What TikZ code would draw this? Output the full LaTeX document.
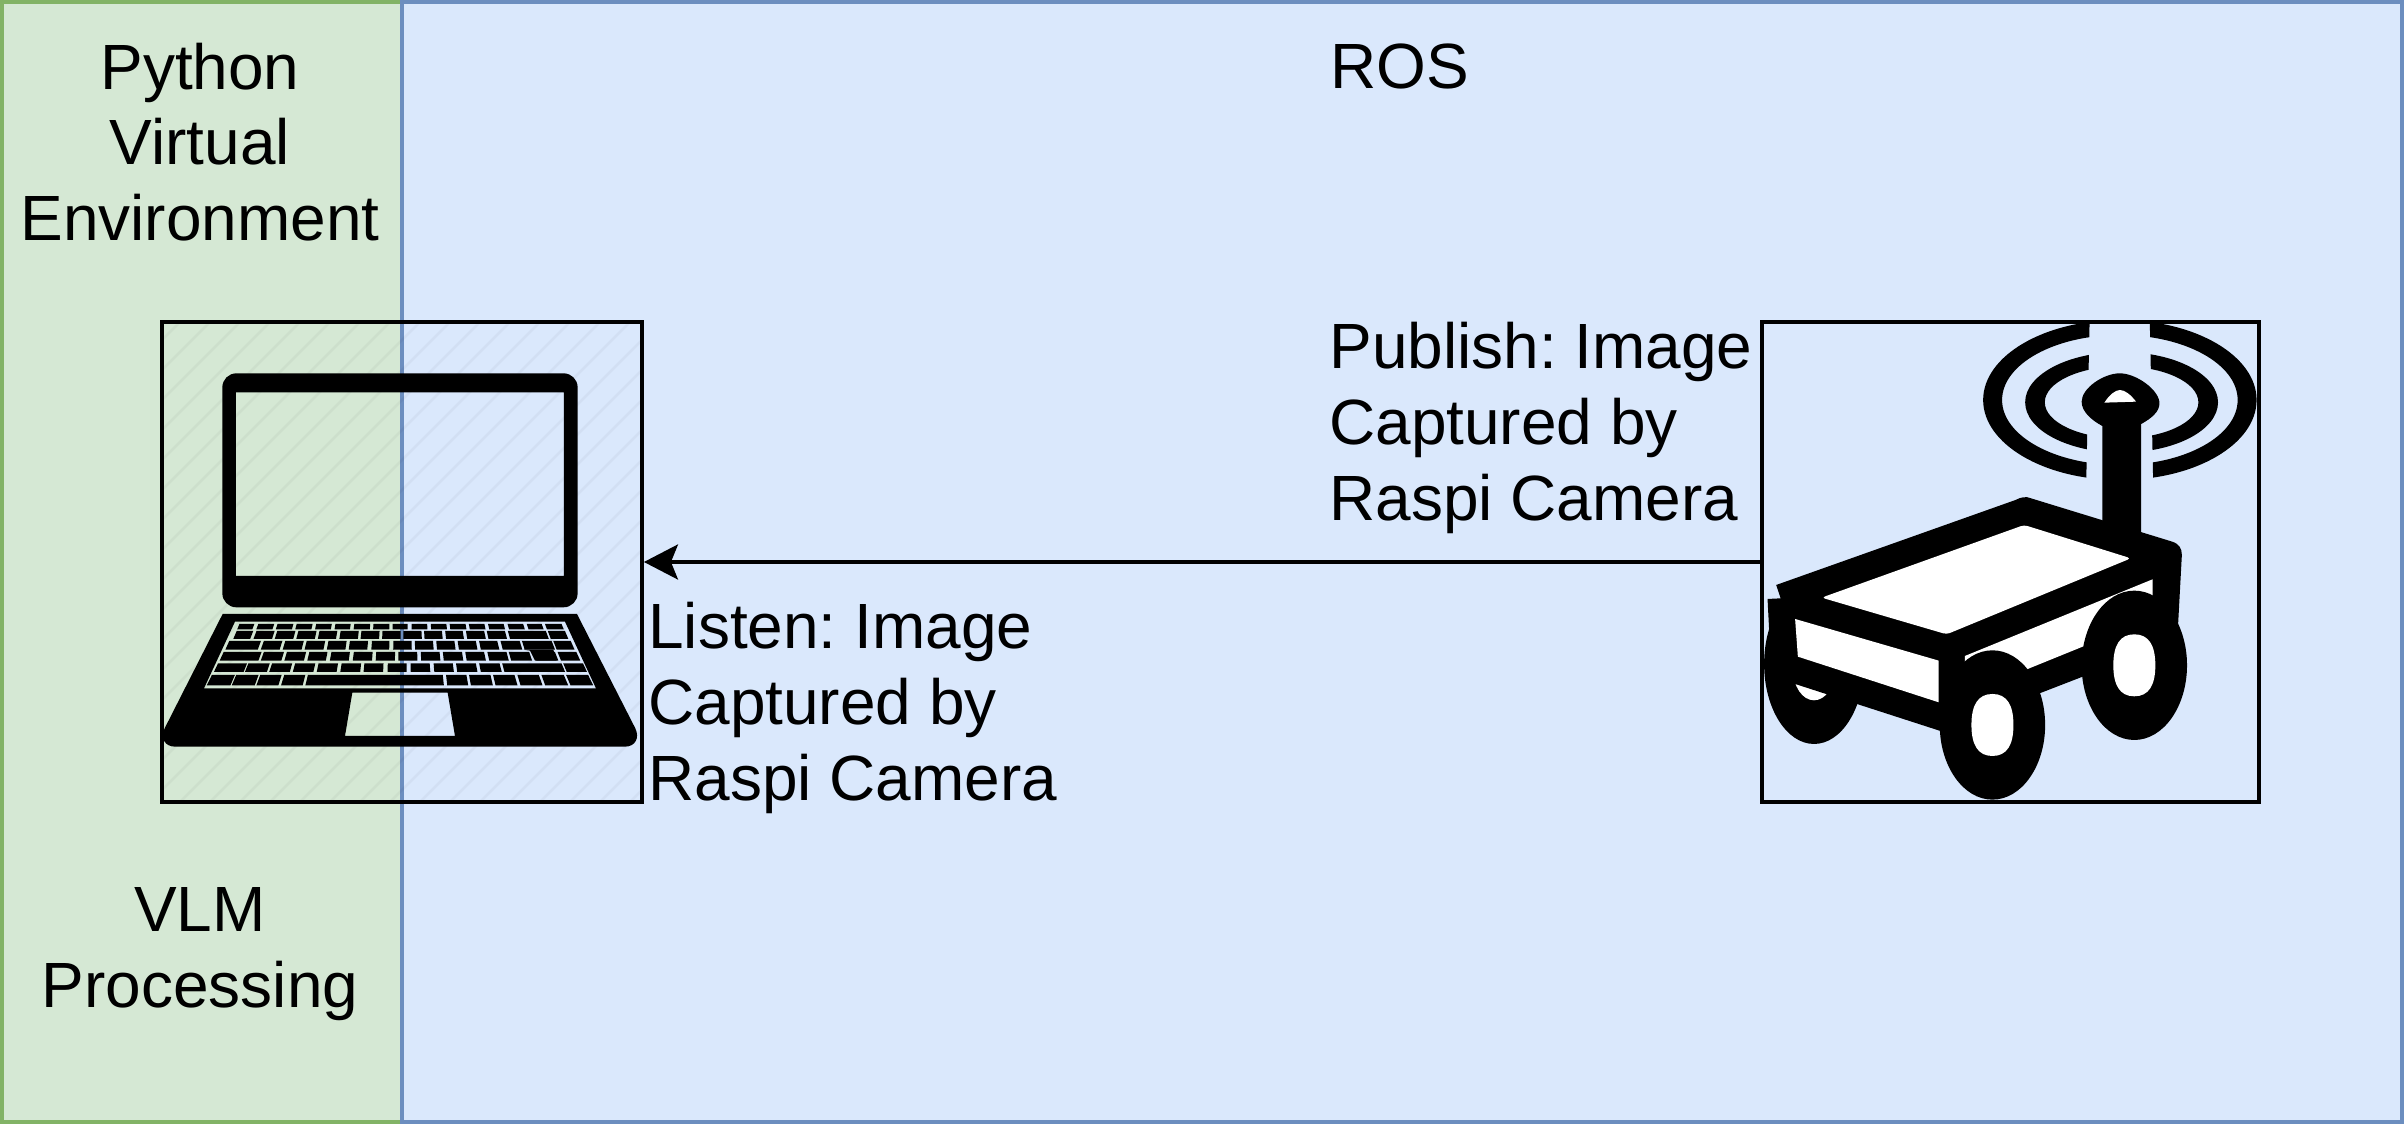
\documentclass[tikz,border=0pt]{standalone}
\usepackage{fontspec}
\setmainfont{Liberation Sans}
\usetikzlibrary{arrows.meta}
\definecolor{venvfill}{HTML}{D5E8D4}
\definecolor{venvline}{HTML}{82B366}
\definecolor{rosfill}{HTML}{DAE8FC}
\definecolor{rosline}{HTML}{6C8EBF}
\tikzset{
    region/.style={rectangle,anchor=north west,inner sep=0pt,line width=0.08cm,minimum height=22.4cm},
    imgbox/.style={rectangle,draw=black,line width=0.08cm,minimum height=9.6cm},
    label/.style={inner sep=0pt,font=\fontsize{36.4}{43}\selectfont\frenchspacing},
    whitepart/.style={fill=white,draw=none},
}
% one row of keys: top, bottom, list of left/right edges at mid height
\newcommand{\keyrow}[3]{
    \pgfmathsetmacro{\rowmid}{(#1+#2)/2}
    \foreach \kl/\kr in {#3} {
        \pgfmathsetmacro{\slanttop}{1+0.00086*(#1-\rowmid)}
        \pgfmathsetmacro{\slantbot}{1+0.00086*(#2-\rowmid)}
        \fill ({785+(\kl-785)*\slanttop},#1) -- ({785+(\kr-785)*\slanttop},#1) -- ({785+(\kr-785)*\slantbot},#2) -- ({785+(\kl-785)*\slantbot},#2) -- cycle;
    }
}
\begin{document}
\begin{tikzpicture}[x=0.02cm,y=-0.02cm]
    \useasboundingbox (0,0) rectangle (2404,1124);
    \node[region,fill=venvfill,draw=venvline,minimum width=8cm] (venv) at (0,0) {};
    \node[region,fill=rosfill,draw=rosline,minimum width=40cm] (ros) at (400,0) {};
    \node[imgbox,minimum width=9.6cm] (laptop) at (402,562) {};
    \node[imgbox,minimum width=9.94cm] (robot) at (2010.5,562) {};
    \begin{scope}
        \clip (162,322) rectangle (642,802);
        \foreach \hx in {-300,-270,...,660} {
            \draw[black,opacity=0.035,line width=1.5pt] (\hx,802) -- ++(480,-480);
        }
    \end{scope}
    \draw[black,line width=0.07cm,-{Stealth[length=0.68cm,width=0.7cm,inset=0.14cm]}] (robot) -- (laptop);

    \node[label,align=center] (venvtitle) at (200,142) {Python\\Virtual\\Environment};
    \node[label] (rostitle) at (1400,66) {ROS};
    \node[label,align=center] (vlm) at (200,954) {VLM\\Processing};
    \node[label,align=left,anchor=west] (publish) at (1329,428) {Publish: Image\\Captured by\\Raspi Camera};
    \node[label,align=left,anchor=west] (listen) at (648,708) {Listen: Image\\Captured by\\Raspi Camera};

    % laptop
    \begin{scope}[shift={(140,300)},x=0.02cm/3,y=-0.02cm/3]
        \fill[even odd rule] [rounded corners=8pt] (247,220) rectangle (1313,922) [sharp corners] (288,277) rectangle (1272,828);
        \fill[even odd rule] (248,942) -- (1311,942) -- (1486,1285) .. controls (1500,1315) and (1485,1340) .. (1455,1340) -- (105,1340) .. controls (75,1340) and (60,1315) .. (74,1285) -- cycle
            (285,965) -- (1275,965) -- (1368,1165) -- (192,1165) -- cycle
            (637,1178) -- (923,1178) -- (945,1308) -- (615,1308) -- cycle;
        \keyrow{972}{988}{295/340,352/400,410/458,468/516,527/574,585/631,642/690,700/748,758/803,815/862,873/920,930/978,988/1035,1046/1093,1105/1152,1163/1208,1218/1268}
        \keyrow{993}{1017}{285/335,345/400,408/463,472/527,536/590,600/655,663/718,727/782,790/845,853/907,917/970,980/1035,1043/1098,1107/1222,1228/1280}
        \keyrow{1023}{1049}{262/358,367/423,432/488,497/553,563/618,628/683,695/748,760/815,825/880,890/945,955/1010,1020/1075,1085/1143,1150/1240,1245/1298}
        \keyrow{1056}{1082}{245/360,367/428,437/495,505/560,572/628,640/697,708/765,775/832,843/900,910/968,978/1035,1045/1103,1110/1172,1185/1250,1258/1315}
        \keyrow{1090}{1116}{228/316,320/385,392/453,462/523,533/592,603/662,672/730,743/800,812/870,882/940,950/1010,1020/1082,1090/1270,1275/1335}
        \keyrow{1125}{1156}{208/278,282/350,355/420,428/492,500/910,920/982,990/1055,1063/1128,1137/1202,1210/1278,1285/1352}
        \fill (1150,1049) -- (1240,1049) -- (1250,1082) -- (1185,1082) -- (1170,1052) -- cycle;
    \end{scope}

    % robot
    \begin{scope}[shift={(1740,300)},x=0.02cm/2.904,y=-0.02cm/3]
        % signal rings
        \begin{scope}
            \clip (600,70) -- (1015,70) -- (1005,560) -- (600,560) -- cycle (1190,70) -- (1200,560) -- (1600,560) -- (1600,70) -- cycle;
            \fill[even odd rule] (1103,300) ellipse (397 and 240) (1103,300) ellipse (342 and 195);
            \fill[even odd rule] (1108,307) ellipse (280 and 151) (1108,307) ellipse (223 and 108);
        \end{scope}
        % mast
        \fill (1052,378) -- (1052,720) -- (1165,720) -- (1165,372) .. controls (1195,355) and (1218,335) .. (1218,310) .. controls (1218,270) and (1150,220) .. (1103,220) .. controls (1055,220) and (992,265) .. (992,305) .. controls (992,335) and (1020,360) .. (1052,378) -- cycle;
        \fill[whitepart] (1058,308) .. controls (1072,285) and (1090,270) .. (1103,270) .. controls (1118,270) and (1135,285) .. (1150,305) -- cycle;
        % rear left wheel
        \fill (215,1092) ellipse (145 and 240);
        \fill[whitepart] (215,1108) ellipse (61 and 93);
        % body
        \fill (105,855) -- (800,600) .. controls (815,592) and (830,588) .. (845,595) -- (1255,725) .. controls (1275,732) and (1283,745) .. (1283,765) -- (1272,975) -- (1145,1095) -- (995,1130) -- (870,1180) -- (733,1275) -- (582,1293) -- (163,1153) -- (85,1130) -- (85,1000) -- (80,897) -- (118,895) -- cycle;
        \fill[whitepart,rounded corners=2pt] (237,893) -- (825,675) -- (1135,775) -- (600,1003) -- cycle;
        \fill[whitepart] (160,957) -- (577,1082) -- (577,1207) -- (168,1070) -- cycle;
        \fill[whitepart] (653,1068) -- (1198,838) -- (1198,1000) -- (995,1040) -- (833,1108) -- (653,1108) -- cycle;
        % front wheels
        \foreach \wx/\wy in {733/1275,1145/1096} {
            \fill (\wx,\wy) ellipse (153 and 224);
            \fill[whitepart] (\wx,\wy-93) .. controls (\wx+42,\wy-93) and (\wx+61,\wy-60) .. (\wx+61,\wy) .. controls (\wx+61,\wy+60) and (\wx+42,\wy+93) .. (\wx,\wy+93) .. controls (\wx-42,\wy+93) and (\wx-61,\wy+60) .. (\wx-61,\wy) .. controls (\wx-61,\wy-60) and (\wx-42,\wy-93) .. (\wx,\wy-93) -- cycle;
        }
    \end{scope}
\end{tikzpicture}
\end{document}
